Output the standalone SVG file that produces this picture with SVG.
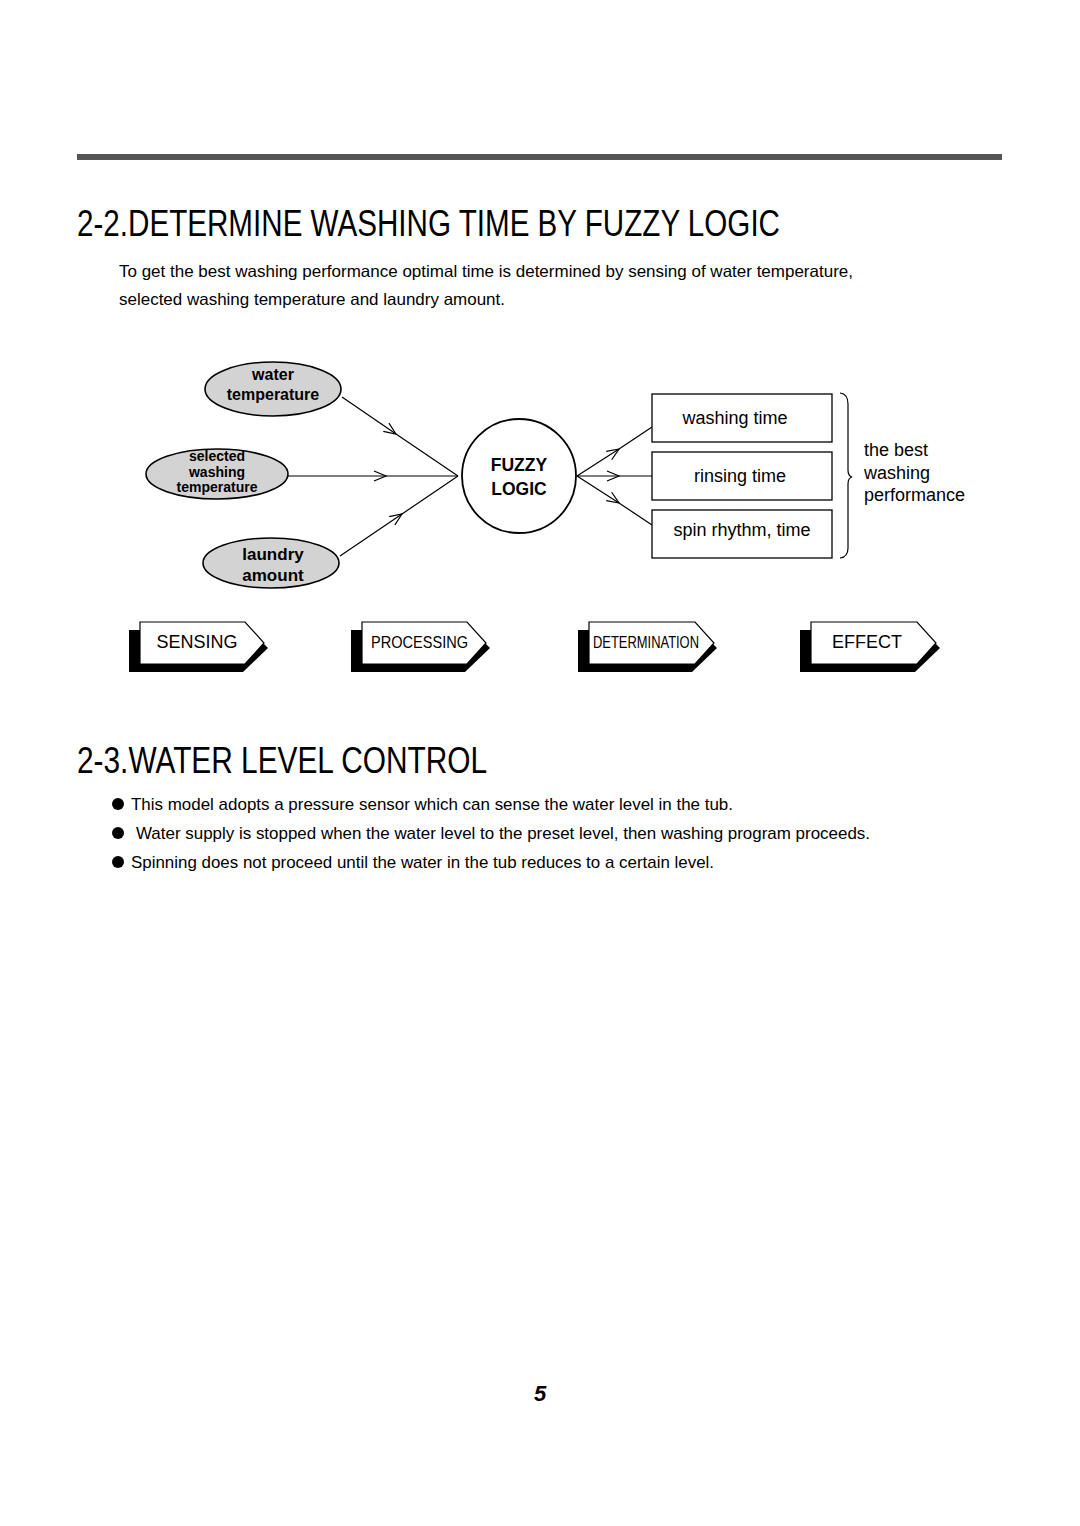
<svg xmlns="http://www.w3.org/2000/svg" width="1080" height="1526" viewBox="0 0 1080 1526">
<style>
text{font-family:"Liberation Sans",Arial,sans-serif;fill:#000}
.title{font-size:36px}
.body{font-size:16.5px}
.bl{font-size:17px}
.eb{font-weight:bold;text-anchor:middle}
.box{fill:#fff;stroke:#000;stroke-width:1.3}
.ell{fill:#d3d3d3;stroke:#000;stroke-width:1.6}
.bt{font-size:18px;text-anchor:middle}
.tag{fill:#fff;stroke:#000;stroke-width:1.2}
.sh{fill:#000}
.tt{font-size:18px;text-anchor:middle}
.ln{fill:none;stroke:#000;stroke-width:1.2;marker-mid:url(#chev)}
</style>
<defs>
<marker id="chev" markerWidth="16" markerHeight="12" refX="13" refY="6" orient="auto" markerUnits="userSpaceOnUse">
<path d="M1,1 L13,6 L1,11" fill="none" stroke="#000" stroke-width="1.2"/>
</marker>
</defs>
<rect x="77" y="154" width="925" height="6" fill="#555"/>
<text class="title" x="77" y="236" textLength="703" lengthAdjust="spacingAndGlyphs">2-2.DETERMINE WASHING TIME BY FUZZY LOGIC</text>
<text class="body" x="119" y="277" textLength="734" lengthAdjust="spacingAndGlyphs">To get the best washing performance optimal time is determined by sensing of water temperature,</text>
<text class="body" x="119" y="305" textLength="386" lengthAdjust="spacingAndGlyphs">selected washing temperature and laundry amount.</text>

<g id="connectors">
<path class="ln" d="M342,397 L396,434 L458,476"/>
<path class="ln" d="M287,476 L386,476 L458,476"/>
<path class="ln" d="M340,556 L402,514 L458,476"/>
<path class="ln" d="M577,476 L619,449 L652,427"/>
<path class="ln" d="M577,476 L619,476 L652,476"/>
<path class="ln" d="M577,476 L619,503 L652,525"/>
</g>

<g id="water-temperature">
<ellipse class="ell" cx="273" cy="389" rx="68" ry="27"/>
<text class="eb" x="273" y="380" font-size="16">water</text>
<text class="eb" x="273" y="400" font-size="16">temperature</text>
</g>
<g id="selected-washing-temperature">
<ellipse class="ell" cx="217" cy="474" rx="71" ry="25"/>
<text class="eb" x="217" y="461" font-size="14">selected</text>
<text class="eb" x="217" y="477" font-size="14">washing</text>
<text class="eb" x="217" y="492" font-size="14">temperature</text>
</g>
<g id="laundry-amount">
<ellipse class="ell" cx="271" cy="563" rx="68" ry="25"/>
<text class="eb" x="273" y="560" font-size="17">laundry</text>
<text class="eb" x="273" y="581" font-size="17">amount</text>
</g>
<g id="fuzzy-logic">
<circle cx="519" cy="476" r="57" fill="#fff" stroke="#000" stroke-width="1.8"/>
<text class="eb" x="519" y="471" font-size="17.5">FUZZY</text>
<text class="eb" x="519" y="495" font-size="17.5">LOGIC</text>
</g>
<g id="washing-time">
<rect class="box" x="652" y="394" width="180" height="48"/>
<text class="bt" x="735" y="424">washing time</text>
</g>
<g id="rinsing-time">
<rect class="box" x="652" y="452" width="180" height="48"/>
<text class="bt" x="740" y="482">rinsing time</text>
</g>
<g id="spin-rhythm">
<rect class="box" x="652" y="510" width="180" height="48"/>
<text class="bt" x="742" y="536">spin rhythm, time</text>
</g>
<g id="best-performance">
<path d="M840,393 Q848,394 848,404 L848,470 Q848,476 852,477 Q848,478 848,484 L848,548 Q848,557 840,558" fill="none" stroke="#000" stroke-width="1.2"/>
<text x="864" y="456" font-size="18">the best</text>
<text x="864" y="479" font-size="18">washing</text>
<text x="864" y="501" font-size="18">performance</text>
</g>

<g id="step-sensing">
<polygon class="sh" points="129,630 250,630 268,648 243,672 129,672"/>
<polygon class="tag" points="140,622 245,622 264,643 245,664 140,664"/>
<text class="tt" x="197" y="648">SENSING</text>
</g>
<g id="step-processing">
<polygon class="sh" points="351,630 472,630 490,648 465,672 351,672"/>
<polygon class="tag" points="362,622 467,622 486,643 467,664 362,664"/>
<text x="371" y="648" font-size="17" textLength="97" lengthAdjust="spacingAndGlyphs">PROCESSING</text>
</g>
<g id="step-determination">
<polygon class="sh" points="578,630 699,630 717,648 692,672 578,672"/>
<polygon class="tag" points="589,622 695,622 714,643 695,664 589,664"/>
<text x="593" y="648" font-size="17" textLength="106" lengthAdjust="spacingAndGlyphs">DETERMINATION</text>
</g>
<g id="step-effect">
<polygon class="sh" points="800,630 922,630 940,648 915,672 800,672"/>
<polygon class="tag" points="811,622 917,622 936,643 917,664 811,664"/>
<text class="tt" x="867" y="648">EFFECT</text>
</g>

<text class="title" x="77" y="773" textLength="410" lengthAdjust="spacingAndGlyphs">2-3.WATER LEVEL CONTROL</text>
<circle cx="118" cy="804" r="6"/>
<text class="bl" x="131" y="810" textLength="602" lengthAdjust="spacingAndGlyphs">This model adopts a pressure sensor which can sense the water level in the tub.</text>
<circle cx="118" cy="833" r="6"/>
<text class="bl" x="136" y="839" textLength="734" lengthAdjust="spacingAndGlyphs">Water supply is stopped when the water level to the preset level, then washing program proceeds.</text>
<circle cx="118" cy="862" r="6"/>
<text class="bl" x="131" y="868" textLength="583" lengthAdjust="spacingAndGlyphs">Spinning does not proceed until the water in the tub reduces to a certain level.</text>

<text x="540" y="1401" font-size="22" font-weight="bold" font-style="italic" text-anchor="middle">5</text>
</svg>
